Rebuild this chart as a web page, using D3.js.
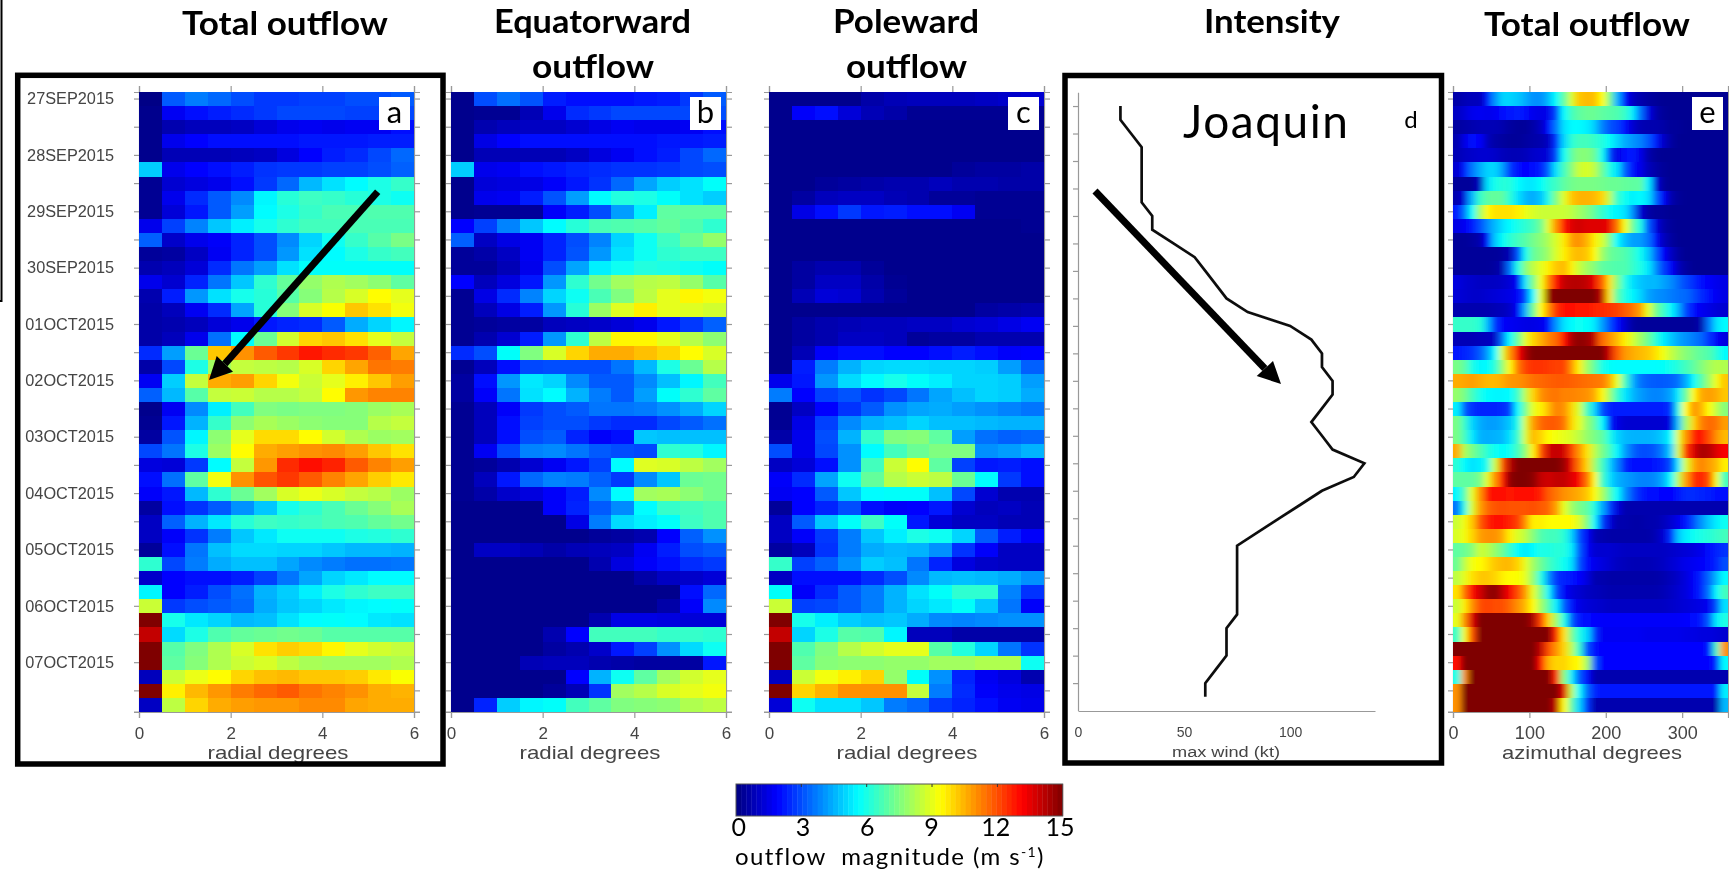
<!DOCTYPE html>
<html lang="en">

<head>
    <meta charset="utf-8" />
    <title>Joaquin outflow</title>
    <script src="https://d3js.org/d3.v7.min.js"></script>
    <style>
        body,
        html {
            margin: 0;
            padding: 0;
            background: white;
            overflow: hidden;
        }

        .tick-text text,
        .axis-name {
            font-family: "Liberation Sans", Arial, sans-serif;
            fill: #444;
        }

        .title {
            font-family: Lato, sans-serif;
            font-weight: 700;
            font-size: 33px;
            fill: black;
        }

        .callout {
            font-family: Lato, sans-serif;
            fill: black;
        }
    </style>
</head>

<body>
    <div id="chart"></div>
    <script>
        const dateLabels = ['27SEP2015', '28SEP2015', '29SEP2015', '30SEP2015', '01OCT2015', '02OCT2015',
            '03OCT2015', '04OCT2015', '05OCT2015', '06OCT2015', '07OCT2015'];
        const radialTicks = [0, 2, 4, 6];
        const azimuthTicks = [0, 100, 200, 300];
        const windTicks = [0, 50, 100];
        const barTicks = [0, 3, 6, 9, 12, 15];

        // m/s, one row per 6 h, 12 radial bins of 0.5 deg
        const totalOutflow = [
            [.1, 3.2, 3.7, 3.4, 3.0, 2.7, 2.7, 2.8, 2.8, 3.0, 3.0, 3.2],
            [.2, 1.7, 2.1, 2.3, 2.5, 2.7, 2.9, 2.9, 2.9, 2.8, 2.8, 2.9],
            [.2, .7, .9, .9, 1.0, 1.3, 1.6, 1.7, 1.6, 1.7, 1.7, 2.0],
            [.2, 1.6, 1.9, 2.1, 2.1, 2.1, 2.1, 2.2, 2.2, 2.2, 2.3, 2.3],
            [.2, .8, .8, .8, .9, 1.0, 1.4, 1.9, 2.3, 2.5, 2.9, 3.4],
            [4.9, 1.6, 1.9, 2.1, 2.3, 2.6, 2.7, 2.7, 2.8, 2.8, 3.0, 3.3],
            [.3, 1.2, 1.4, 1.6, 2.0, 2.7, 3.4, 4.6, 5.2, 5.6, 6.0, 6.4],
            [.3, 1.6, 2.5, 3.2, 3.9, 5.5, 6.2, 6.5, 6.4, 6.2, 6.0, 5.8],
            [.3, 1.3, 2.2, 3.2, 4.2, 5.6, 6.0, 6.4, 6.7, 6.7, 6.8, 6.8],
            [1.6, 2.8, 3.8, 4.8, 5.4, 5.9, 6.3, 6.6, 6.6, 6.7, 6.7, 6.7],
            [3.3, 1.1, 1.6, 1.8, 2.4, 3.0, 3.9, 5.0, 5.8, 6.4, 6.9, 7.4],
            [.4, .5, 1.0, 1.7, 2.4, 3.0, 4.1, 5.2, 5.6, 6.0, 6.4, 6.6],
            [.7, .9, 1.3, 2.5, 3.6, 4.2, 5.2, 5.7, 5.7, 5.7, 5.7, 5.7],
            [1.6, 1.2, 2.4, 3.6, 4.8, 6.3, 7.1, 7.8, 8.2, 8.0, 7.7, 7.0],
            [.7, 2.3, 4.1, 5.2, 5.9, 6.2, 6.9, 7.6, 8.3, 8.8, 9.4, 9.0],
            [.6, .9, 1.7, 2.5, 4.3, 6.2, 7.6, 8.8, 9.3, 10.2, 9.8, 9.2],
            [.6, .7, .9, 1.3, 1.6, 2.2, 2.4, 2.5, 3.2, 4.4, 5.0, 5.5],
            [.6, .9, 1.6, 3.5, 5.6, 7.2, 8.7, 10.0, 10.2, 9.8, 9.0, 8.5],
            [2.5, 4.2, 7.2, 10.2, 11.0, 11.8, 12.3, 12.8, 12.5, 12.3, 11.7, 10.7],
            [.6, 2.9, 6.0, 8.0, 8.5, 8.4, 8.3, 8.8, 10, 10.7, 11.4, 11.3],
            [1.7, 4.9, 8.5, 10.6, 10.8, 10.0, 9.2, 8.6, 9.0, 9.6, 10.2, 10.8],
            [3.3, 4.6, 6.9, 8.5, 8.6, 8.3, 8.3, 8.5, 9.4, 10.9, 11.2, 11.2],
            [.2, 1.7, 3.9, 5.4, 6.6, 7.5, 7.4, 7.5, 7.5, 7.6, 7.9, 8.1],
            [.3, 2.2, 4.5, 6.4, 7.7, 8.1, 7.9, 7.7, 7.6, 7.6, 8.3, 8.5],
            [.5, 3.1, 5.5, 7.7, 9.0, 9.9, 9.9, 9.4, 8.7, 8.2, 7.9, 8.0],
            [2.9, 3.6, 6.0, 7.9, 9.4, 10.6, 10.8, 11.0, 11.1, 10.8, 10.2, 9.8],
            [1.4, 1.3, 2.7, 5.6, 8.5, 10.9, 12.5, 13.0, 12.6, 11.8, 11.2, 10.8],
            [2, 3.5, 7.0, 9.2, 11, 11.9, 12.3, 11.8, 11.2, 10.7, 10.1, 9.7],
            [1.8, 2.2, 4.6, 6.3, 7.2, 8, 8.8, 9.1, 8.8, 8.5, 8.3, 7.9],
            [.5, 2, 2.6, 3.2, 4, 4.8, 5.9, 6.3, 6.7, 7.2, 7.6, 8.1],
            [1, 3.3, 4.5, 5.3, 6.2, 6.5, 6.4, 6.5, 6.7, 6.8, 7.1, 7.3],
            [1, 1.8, 2.6, 3.7, 4.8, 5.3, 5.8, 5.8, 5.8, 6, 6.1, 6.3],
            [.4, 2, 3.6, 4.7, 5.1, 5.1, 5.0, 5, 4.8, 4.6, 4.6, 4.5],
            [6.3, 2.9, 3.7, 4.4, 4.7, 4.7, 4.3, 3.9, 3.7, 3.5, 3.5, 3.6],
            [1.1, 1.9, 2, 2, 2.3, 2.8, 3.6, 4.3, 5, 5.3, 5.6, 5.6],
            [5.5, 1.9, 2.3, 3, 3.5, 4.5, 4.9, 5.4, 6, 6.3, 6.5, 6.5],
            [8.6, 2.7, 3, 3.2, 3.4, 4.4, 4.8, 5, 5.3, 5.5, 5.6, 5.7],
            [15, 5.9, 5.3, 5, 4.6, 4.7, 5.2, 5.6, 5.7, 5.6, 5.3, 5.2],
            [14, 5.1, 6, 6.8, 7.1, 7.2, 7.3, 7.2, 6.9, 6.9, 6.9, 6.9],
            [15, 6.9, 7.5, 8.2, 8.8, 9.8, 10.1, 9.9, 9.5, 9, 8.7, 8.5],
            [15, 7, 7.6, 8.2, 8.6, 8.8, 8.4, 8.1, 8, 8, 8, 8.2],
            [.9, 8.6, 9.1, 9.4, 10, 10.3, 10.4, 10.2, 10.2, 10.1, 9.7, 9.3],
            [15, 9.6, 10.4, 10.9, 11.3, 11.6, 11.8, 11.4, 11.2, 11, 10.6, 10.5],
            [1, 8.4, 10, 10.6, 10.8, 10.9, 10.9, 11.1, 11.1, 10.7, 10.6, 10.6]
        ];

        const equatorwardOutflow = [
            [.2, 3, 3.5, 3.1, 2.3, 2.1, 2.0, 2.0, 2.2, 2.3, 2.7, 3.2],
            [.2, .3, .3, .8, 1.6, 2.5, 2.7, 2.9, 2.9, 2.9, 2.9, 3.0],
            [.2, .7, .9, 1, 1, 1.2, 1.5, 1.7, 1.6, 1.6, 1.7, 2.0],
            [.2, 1.5, 1.9, 2, 2, 2, 2, 2, 2.1, 2.2, 2.2, 2.3],
            [.2, .8, .8, .8, .8, 1.0, 1.4, 1.7, 2.1, 2.3, 2.9, 3.4],
            [4.9, 1.6, 1.7, 2, 2.2, 2.4, 2.5, 2.6, 2.6, 2.7, 2.9, 3],
            [.2, 1.3, 1.4, 1.5, 1.8, 2.2, 2.6, 3.4, 4.3, 4.9, 5.2, 5.7],
            [.2, 1.6, 1.7, 2.3, 3.1, 4.2, 5.6, 6.1, 6, 5.7, 5.2, 4.9],
            [.2, .3, .3, .4, 1.8, 2.3, 3.0, 4.2, 5.4, 7, 7, 7],
            [1.9, 2.8, 3.8, 4.8, 5.6, 6.2, 6.7, 6.8, 6.9, 7.1, 6.8, 6.3],
            [3.3, 1, 1.5, 1.7, 2.4, 3, 3.8, 5, 5.8, 6.5, 7.2, 7.8],
            [.4, .6, 1, 1.7, 2.4, 3.1, 4.1, 5.2, 5.8, 6.3, 6.5, 6.5],
            [.4, .4, .8, 1.6, 3, 4.3, 5.4, 5.8, 6.1, 6, 5.8, 5.7],
            [1.9, .9, 1.4, 2.2, 4.1, 6.3, 7.3, 8, 8.3, 8.4, 7.8, 6.9],
            [.3, 1.5, 2.5, 3.8, 5, 5.8, 6.7, 7.5, 8.4, 9, 9.5, 9.2],
            [.3, .9, 1.5, 2.3, 4.1, 6.2, 7.9, 8.9, 9.6, 9, 8.9, 8.7],
            [.3, .4, .5, .5, .9, 1, 1.1, 1.3, 1.6, 2.2, 2.7, 3.3],
            [.3, .7, 1.2, 2.3, 4.1, 6.3, 8.4, 9.5, 9.5, 9, 8.3, 7.7],
            [2.5, 3, 5.7, 7.5, 8.8, 10, 10.6, 10.6, 10.3, 10, 9.4, 8.8],
            [.3, .9, 2.1, 2.9, 3, 3, 3, 3.6, 4.6, 6, 7.2, 8.3],
            [.5, 2, 4.1, 5.3, 5.0, 3.9, 3.2, 3.2, 3.9, 4.7, 5.5, 6.6],
            [.5, 1.8, 3.6, 5.2, 5.6, 4.5, 3.7, 3.2, 4.2, 5.7, 6.3, 7],
            [.3, .9, 1.8, 2.7, 3, 3.2, 3.6, 3.6, 3.7, 4, 4.4, 5],
            [.3, .9, 2, 2.8, 3, 3, 2.7, 2.5, 2.5, 2.9, 3.2, 3.5],
            [.3, .9, 2, 3, 3.2, 2.4, 1.8, 2.0, 4.8, 4.7, 4.7, 4.7],
            [.3, 1.7, 2.9, 3.8, 3.9, 3.6, 3.2, 3, 2.9, 6.3, 6.1, 5.5],
            [.3, .4, .7, 1.2, 1.7, 2.2, 2.8, 5.6, 8.9, 8.8, 8.4, 8],
            [.3, .9, 2.2, 3.4, 3.8, 3.7, 3.3, 2.7, 3.9, 4.8, 7.2, 7.3],
            [.3, .6, 1.1, 1.4, 1.8, 2.3, 3.9, 5.6, 8, 8.1, 7.7, 7.3],
            [.2, .2, .2, .2, 1.8, 2.4, 3.2, 3.9, 5.6, 6.4, 6.6, 6.8],
            [.2, .2, .2, .2, .2, 1.5, 3.7, 5.1, 5.4, 5.7, 6.5, 6.8],
            [.2, .2, .2, .2, .2, .2, .4, .5, .7, 1.9, 3.3, 4],
            [.2, 1.0, 1, .8, .6, .8, .9, 1, 1.7, 2.3, 3, 3.2],
            [.2, .2, .2, .2, .2, .2, .7, 1.4, 1.8, 2.1, 2.5, 2.7],
            [.2, .2, .2, .2, .2, .2, .2, .2, .6, 1, 1.1, 1.3],
            [.2, .2, .2, .2, .2, .2, .2, .2, .2, .2, 2, 3.4],
            [.2, .2, .2, .2, .2, .2, .2, .2, .2, .6, 1.8, 3.9],
            [.2, .2, .2, .2, .2, .2, .7, 1.5, 1.5, 1.4, 1.3, 1.3],
            [.2, .2, .2, .2, .7, 1.9, 6.6, 6.6, 6.6, 6.4, 6.4, 6.3],
            [.2, .2, .2, .2, .5, .7, 1.1, 2.2, 2.8, 4, 5.1, 5.8],
            [.2, .2, .2, .8, .9, .9, .7, .6, .5, .5, .5, 2.2],
            [.2, .2, .2, .2, .2, 1.9, 4.5, 5.8, 7, 8, 8.7, 9],
            [.2, .2, .2, .2, .4, .8, 2.6, 8, 8.3, 8.8, 9, 9.2],
            [.2, 2.4, 4.9, 5.5, 5.7, 6.6, 7, 7.5, 7.6, 7.7, 8.2, 8.4]
        ];

        const polewardOutflow = [
            [.2, .2, .2, .2, .6, .8, .9, .9, .9, 1, 1.1, 1.2],
            [.2, 1.8, 2.0, 1.3, .8, .6, .3, .3, .3, .3, .3, .3],
            [.2, .2, .2, .2, .2, .2, .2, .2, .2, .2, .2, .2],
            [.2, .2, .2, .2, .2, .2, .2, .2, .2, .2, .2, .2],
            [.2, .2, .2, .2, .2, .2, .2, .2, .2, .2, .2, .2],
            [.2, .2, .2, .2, .2, .2, .2, .2, .4, .5, .5, .6],
            [.2, .2, .4, .5, .6, .7, .7, .9, .7, .7, .6, .6],
            [.2, .5, .9, 1, 1, .8, .7, .4, .4, .3, .3, .3],
            [.2, 1.5, 2, 2.7, 2.2, 2.3, 2.1, 2, 1.7, .3, .3, .3],
            [.2, .2, .2, .2, .2, .2, .2, .2, .2, .2, .2, .3],
            [.2, .2, .2, .2, .2, .2, .2, .2, .2, .2, .2, .2],
            [.2, .2, .2, .2, .2, .2, .2, .2, .2, .2, .2, .2],
            [.2, .5, .7, .7, .4, .2, .2, .2, .2, .2, .2, .2],
            [.2, .5, 1, 1, .6, .3, .2, .2, .2, .2, .2, .2],
            [.2, .8, 1.3, 1.2, .7, .4, .2, .2, .2, .2, .2, .2],
            [.2, .2, .2, .2, .2, .2, .2, .2, .2, .5, .6, .7],
            [.2, .5, .7, .8, .9, .9, 1, 1, 1.2, 1.3, 1.5, 1.7],
            [.2, .5, .7, 1, 1, .9, .4, .5, .5, .7, .7, .7],
            [.2, .8, 1.8, 2, 2.1, 1.9, 1.9, 2.1, 2.3, 2, 1.8, 1.9],
            [.2, 2.3, 3.7, 4.5, 5, 5.1, 5.1, 5, 5, 4.9, 4.2, 3.3],
            [1.6, 2.2, 4.1, 5.1, 5.6, 5.9, 5.7, 5.4, 5, 5, 4.9, 4.2],
            [3.7, 1.9, 2.8, 3.1, 2.6, 2.9, 3.6, 4.3, 4.7, 5, 4.9, 4.4],
            [.3, 1, 1.9, 2.6, 3.2, 4, 4.3, 4.4, 4.2, 4, 3.8, 3.6],
            [.3, 1.5, 2.8, 3.9, 4.5, 4.7, 5, 4.7, 4.7, 4.6, 4.5, 4.5],
            [.6, 1.6, 3, 4.5, 6.4, 7.5, 7.6, 7, 4.2, 3.5, 3.3, 3.4],
            [3, 1.6, 2.9, 4, 5.6, 6.6, 7.2, 7.5, 7.5, 4, 4.2, 4.5],
            [1, 1.3, 2, 4, 6.6, 8.6, 9.4, 7, 2.8, 2.2, 2.3, 2],
            [1.8, 2.5, 4.3, 5.8, 7.1, 8.3, 8.6, 8.4, 7.2, 5.6, 2.7, 2],
            [1.7, 1.9, 3.2, 4.8, 5.6, 5.7, 5.7, 4.7, 2.9, 1.2, .7, .7],
            [.4, 1.9, 2.4, 3, 2.1, 1.8, 1.9, 2.2, 1.2, .9, 1, .8],
            [1, 3.2, 4.8, 5.7, 6.5, 5.7, 2.2, 1.3, 1, 1, .8, .8],
            [1, 1.8, 2.7, 3.7, 4.8, 5.4, 6, 5.8, 5, 3.2, 2.3, 1.8],
            [.5, .9, 2.6, 3.7, 4.4, 4.6, 4.5, 4, 2.6, 1.8, 1, 1],
            [6.4, 2.8, 3.3, 4, 4.9, 4.7, 3.6, 2.4, 1.4, 1.1, 1, 1],
            [1, 2, 2, 2, 2.5, 3, 3.9, 4.6, 4.7, 4.6, 4.4, 4],
            [5.7, 1.8, 2.5, 3.2, 3.7, 4.5, 5.2, 5.7, 6.3, 6.3, 3.8, 2.6],
            [8.6, 2.8, 2.9, 3.2, 3.7, 4.5, 5, 5.3, 5.7, 4.8, 3.6, 1.8],
            [15, 5.9, 5.4, 4.9, 4.7, 4.8, 4.4, 3.9, 3.8, 3.9, 4, 4],
            [14, 5, 6, 6.9, 6.8, 5.5, .9, .9, .6, .6, .6, .6],
            [15, 6.8, 7.5, 8.3, 8.7, 9, 9, 6.9, 6.1, 5, 3.6, 2.6],
            [15, 7, 7.6, 7.7, 7.7, 7.8, 7.8, 8, 8, 8.2, 8.2, 5.8],
            [1, 8.6, 9.2, 9.6, 10, 7.8, 5.7, 4, 2.4, 1.7, 1.4, .7],
            [15, 10, 10.5, 11, 11, 11, 8.5, 3.7, 2.5, 1.8, 1.6, 1.5],
            [1.3, 5.8, 5.2, 5.2, 4.8, 3.7, 3.4, 2.7, 2.4, 2, 1.7, 1.6]
        ];

        // kt, one point per 6 h
        const maxWind = [20, 20, 25, 30, 30, 30, 30, 30, 35, 35, 45, 55, 60, 65, 70, 80, 100, 110, 115, 115, 120, 120,
            115, 110, 115, 120, 135, 130, 115, 105, 95, 85, 75, 75, 75, 75, 75, 75, 70, 70, 70, 65, 60, 60];

        // m/s, same rows, 36 azimuth bins of 10 deg
        const azimuthOutflow = [
            [.6, .8, .9, .9, 2.2, 4, 5, 5, 4.8, 4.4, 4, 4, 4.6, 5.6, 7, 8.8, 10.2, 10.4, 10.3, 9.4, 7.4, 4.5, 2, 1, .7, .5, .4, .3, .3, .3, .3, .3, .3, .3, .3, .3],
            [1, 1.3, 1.6, 1.7, 1.6, 1.7, 2, 2.2, 2.3, 2, 1.6, 1.5, 1.6, 2.8, 5.6, 6.6, 7, 7.2, 7.2, 7, 6.9, 6.8, 6.4, 5.4, 3.6, 1.5, .7, .4, .3, .3, .3, .3, .3, .3, .3, .3],
            [.5, .6, .7, .8, .8, .8, .7, .5, .4, .4, .6, 1, 1.9, 3.6, 5.2, 5.6, 5.6, 5.4, 4.9, 3.8, 3.1, 2.8, 2.0, 1.2, .8, .7, .7, .6, .4, .4, .3, .3, .3, .3, .3, .3],
            [.7, 1.5, 2, 1.8, .9, .6, .5, .4, .4, .5, .6, .7, 1.0, 2.5, 5, 6.2, 6.6, 6.6, 6.4, 6.1, 5.7, 5, 4.4, 4.1, 3.8, 3.2, 2.3, 1.1, .5, .3, .3, .3, .3, .3, .3, .3],
            [.8, 1, 1.1, 1.2, 1.2, 1.1, .9, .8, .8, .9, 1.1, 1.2, 1.3, 2.8, 5.8, 7, 7.6, 7.6, 7.2, 5.8, 2.8, 1.5, 2, 2.3, 1.6, .7, .4, .3, .3, .3, .3, .3, .3, .3, .3, .3],
            [1.2, 2.2, 3.6, 4.4, 5, 5, 4.2, 2.7, 2, 1.9, 2, 2.3, 3.3, 5.2, 6.6, 7.6, 8.6, 8.8, 8.4, 7.2, 6, 5.2, 3.2, 2, 1.6, .9, .6, .4, .3, .3, .3, .3, .3, .3, .3, .3],
            [.4, .4, .4, 1, 5.2, 5.9, 6.2, 6.1, 5.6, 5.3, 5.3, 5.7, 6.2, 6.5, 7, 7.3, 7.4, 7.4, 7.4, 7.3, 7.2, 7.2, 7.1, 7, 7, 5.4, 1.5, .5, .3, .3, .3, .3, .3, .3, .3, .3],
            [.7, 1.4, 4.5, 6.4, 7, 7.1, 7, 6.2, 5.2, 4.6, 4.4, 4.8, 6, 7.5, 8.9, 10.2, 10.5, 10.5, 10.4, 10, 8.4, 6.4, 5.8, 5.4, 5.6, 5.2, 3.4, 1.8, .7, .4, .3, .3, .3, .3, .3, .3],
            [2.2, 3.5, 5.6, 8, 9.4, 9.8, 9.8, 9.8, 9.6, 9.1, 8.8, 8.6, 8.6, 8.6, 8.6, 8.4, 8, 7.6, 7, 6.4, 5.8, 5.5, 5.2, 4, 1.3, .6, .4, .4, .3, .3, .3, .3, .3, .3, .3, .3],
            [1.5, 1.7, 2.2, 3, 3.9, 4.6, 5.2, 5.6, 6, 6.3, 6.6, 7.3, 9, 11, 12.8, 13.6, 13.8, 13.6, 13.6, 13.6, 13.4, 11.5, 9.2, 7.2, 6, 3.2, 1.5, .7, .4, .3, .3, .3, .3, .3, .3, .3],
            [.4, .4, .5, .7, 2, 4.8, 5.7, 6.2, 6.6, 6.9, 7.3, 7.7, 8.2, 8.8, 9.7, 10.8, 11, 10.5, 9.6, 8.8, 7.5, 5.6, 4.7, 4.2, 4.2, 3.6, 2, 1, .5, .3, .3, .3, .3, .3, .3, .3],
            [.4, .4, .4, .4, .4, .4, .5, .8, 3, 5.8, 7.1, 7.5, 8, 8.8, 9.6, 10.2, 10.4, 10.2, 9.4, 8, 7.2, 7, 6.8, 6.4, 5.8, 4.8, 3.3, 1.9, 1, .5, .3, .3, .3, .3, .3, .3],
            [.4, .4, .4, .4, .4, .5, .8, 3.5, 6, 7.6, 8.4, 9, 9.6, 10.2, 10.4, 9.6, 8.6, 8, 7.6, 7, 6.9, 6.8, 6.8, 6.4, 6, 5.3, 4, 2.8, 1.8, .9, .5, .3, .3, .3, .3, .3],
            [1.4, 1.2, 1.1, 1, 1, 1, 1.1, 1.3, 1.8, 5.3, 7.4, 9.2, 11.2, 13, 14, 14.2, 14.2, 14, 13.4, 11.8, 9.8, 7.6, 6, 5.2, 4.8, 4.6, 4.6, 4.3, 3.9, 3.4, 2.9, 2.5, 2, 1.8, 1.6, 1.5],
            [1.3, 1.2, 1.1, 1.1, 1.2, 1.3, 1.4, 1.5, 1.8, 2.8, 5.6, 9, 14.6, 15, 15, 15, 15, 15, 15, 14, 9.8, 7, 6, 5.5, 5, 4.3, 4, 3.9, 3.7, 3.5, 3.4, 3, 2.5, 2, 1.7, 1.5],
            [.7, .7, .7, .7, .7, .8, .9, 1.1, 1.8, 4.5, 7.2, 9.4, 11, 12.4, 13, 13, 12.8, 12.8, 12.6, 12.5, 12.4, 12.2, 11.8, 11.4, 10.8, 9, 7.4, 6.5, 5.5, 4.4, 2.8, 2, 1.7, 1.5, 1.3, 1.2],
            [6.4, 6.4, 6.4, 6.2, 4.6, 2.6, 1.8, 1.7, 1.6, 1.5, 1.5, 1.6, 2, 4, 5.2, 5.6, 5.8, 5.7, 5.3, 4.2, 3, 2, 1.2, .5, .4, .4, .4, .4, .4, .4, .4, .4, .7, 3.6, 5.2, 5.6],
            [.8, .8, .8, .9, .9, 1.1, 3.5, 5.6, 7.2, 9, 10, 10.6, 11.2, 11.6, 13, 14.4, 14.8, 14.6, 14, 11.6, 11, 10.4, 9.6, 8.8, 8, 7.2, 6.2, 5.4, 4.8, 4.3, 4, 3.7, 3.4, 2.6, 1.8, 1.4],
            [2.2, 2.4, 2.6, 3.2, 4.2, 5.6, 8.8, 11, 13.2, 14.4, 15, 15, 15, 15, 15, 15, 15, 15, 15, 15, 13.8, 11.8, 10.9, 10.6, 10.4, 10.2, 9.8, 9.2, 8.5, 8, 7.6, 7.3, 7, 6.8, 6.2, 5.6],
            [7.4, 7, 6, 5.5, 5.6, 6.2, 7.8, 9.5, 11.4, 12.2, 12.4, 12.4, 12.3, 12.2, 12.2, 11, 9.6, 8, 7, 6, 5.7, 5.6, 5.6, 5.6, 5.6, 5.6, 5.6, 5.7, 5.9, 6.2, 6.6, 7, 7.5, 8, 8.3, 8.2],
            [10.6, 10.7, 10.8, 10.6, 10.4, 10.4, 10.6, 10.9, 11, 11.2, 11.5, 11.6, 11.7, 11.8, 11.8, 11.7, 11.6, 11.5, 11.4, 11.3, 10.6, 9, 6.6, 4.6, 3.6, 3.3, 3.2, 3.2, 3.3, 3.6, 4.4, 5.6, 6.8, 8, 9.2, 10.2],
            [7.8, 7.4, 6.6, 5.9, 5.6, 5.5, 5.5, 5.6, 6.5, 8.4, 10, 11, 11.3, 11.4, 11.2, 11.2, 11.1, 11, 10.6, 9.5, 8, 6.4, 5.3, 4.6, 4.2, 3.9, 3.8, 3.9, 4.3, 5.4, 7.2, 9.4, 10.6, 10.8, 10.6, 10.2],
            [5.4, 3.2, 2.6, 2.4, 2.4, 2.4, 2.5, 2.8, 5.6, 7.4, 9, 9.6, 10.4, 11.2, 11, 10, 8.8, 6.6, 5, 3, 2.4, 2.3, 2.3, 2.3, 2.3, 2.3, 2.3, 2.3, 2.6, 6, 9.4, 11, 10.5, 9.4, 8.4, 7.6],
            [7.4, 6.4, 5, 4.4, 4.2, 4.2, 4.4, 4.8, 6, 8.8, 10.8, 11.6, 11.8, 11.8, 11.4, 10, 9, 7.8, 7, 5.6, 2.4, 1.5, 1.2, 1.2, 1.2, 1.2, 1.2, 1.2, 1.5, 4.8, 8, 10, 11.2, 11.6, 11.4, 10.8],
            [7.4, 6.6, 5.3, 4.5, 4.4, 4.5, 4.6, 5.2, 6.4, 8.8, 10.4, 10, 9.4, 9.2, 9, 8.8, 8.4, 7.8, 7.4, 7, 6, 5, 4.6, 4.5, 4.5, 4.5, 4.6, 4.9, 5.6, 9, 11, 12.6, 13, 12, 11, 10.4],
            [10.6, 8.2, 7.4, 6.8, 6.2, 5.8, 5.6, 5.8, 6.6, 7.8, 9.6, 12, 13.8, 14, 13.8, 12.2, 11, 9.8, 8.4, 7.4, 6.6, 5.5, 4.2, 3.4, 3, 3, 3.2, 3.8, 5, 8.8, 12.4, 13.6, 14.4, 14.2, 13.6, 13.2],
            [6.2, 5.6, 5.2, 5.4, 6, 8.6, 12, 14.2, 15, 15, 15, 15, 15, 15, 14.6, 13.4, 11.4, 10, 8, 6.6, 5, 3.8, 2.4, 2.1, 2.1, 2.1, 2.2, 2.4, 3, 5.4, 8.8, 10.6, 11.2, 10.8, 10.4, 9.6],
            [7, 7, 7, 7.4, 9, 11, 12.8, 14.8, 15, 15, 14.8, 14, 13.8, 14, 14, 13.6, 13.2, 11.5, 9.4, 6.6, 5.2, 4.5, 4.2, 4, 3.8, 3.8, 3.9, 4.4, 5.6, 8.4, 10.8, 12.4, 12.6, 12, 9.2, 6.6],
            [5.5, 6.8, 9, 11, 12.8, 13, 13, 12.8, 13, 13, 13, 12.6, 11.8, 11.4, 11, 10.8, 10.6, 10.2, 9.4, 8.2, 6.8, 5.6, 4, 3, 2.4, 2, 2, 1.9, 1.9, 2.2, 2.5, 2.5, 2.4, 2.3, 2.1, 2],
            [3.6, 6, 8.8, 10.8, 11.6, 11.9, 12, 11.9, 11.9, 11.9, 12, 11.8, 11.6, 10.8, 9, 8, 7.4, 7, 6, 4.4, 2.8, 1.4, .7, .7, .7, .7, .7, .7, .7, .7, .7, .7, .7, .7, .7, .7],
            [8.6, 9.2, 10.2, 11.8, 12.6, 13, 13, 12.6, 12.2, 11, 9.6, 9.6, 9.4, 9.4, 9.4, 9.4, 8.8, 7.5, 5.6, 2.8, 1.4, .7, .7, .6, .6, .7, .7, .9, 1.2, 1.6, 2.2, 3, 4, 4.8, 5.4, 5.8],
            [8.8, 9.2, 10, 10.8, 11, 11, 10.6, 9.6, 8.8, 8.4, 7.6, 6.8, 6.6, 6.6, 6.2, 5, 3, 1.8, .8, .7, .6, .6, .6, .6, .6, .6, .8, 1.2, 2.5, 4.8, 5.4, 5.8, 6, 6.2, 6.4, 6.6],
            [7, 7.2, 7.6, 8.6, 8.4, 7.8, 7.2, 6.4, 5.6, 5.3, 5.6, 6, 6, 6.2, 6.1, 5.4, 3.2, 1.8, 1.2, 1.2, 1.2, 1.1, 1, 1, 1, 1, 1, 1, 1.1, 1.2, 1.3, 1.4, 1.6, 2, 2.4, 2.6],
            [7.2, 8.4, 9.2, 9.4, 9.8, 10.2, 10.4, 10.4, 10, 9, 8, 7.2, 6.6, 6.2, 5.8, 5.2, 3, 2, 1.6, 1.4, 1.2, 1, .9, .8, .8, .8, .9, 1, 1.2, 1.4, 1.6, 1.7, 1.8, 2, 2.4, 3],
            [8.4, 9, 9.8, 10.2, 10.2, 10, 9.6, 9.4, 9.3, 9, 7.8, 6, 4, 2.6, 2.4, 2.2, 1.9, 1.4, .7, .7, .6, .6, .6, .6, .6, .6, .6, .7, .9, 1.1, 1.4, 1.8, 2.4, 3.4, 4.6, 5.6],
            [9.8, 11.5, 13, 13.8, 14.6, 14.8, 14, 13.2, 12, 10.8, 9, 7.4, 5.5, 3, 1.8, 1.4, 1.2, 1, .9, .8, .7, .7, .7, .7, .7, .7, .7, .8, 1, 1.2, 1.4, 1.8, 2.4, 3.6, 5.6, 6.6],
            [8.6, 9.6, 11, 12, 12.2, 12, 12, 11.6, 11, 10.4, 9.4, 8, 6.8, 5.4, 3.2, 2, 1.5, 1.3, 1.2, 1.1, 1, 1, 1, 1, 1, 1, 1, 1, 1.1, 1.2, 1.3, 1.4, 1.5, 1.7, 3, 5.2],
            [9, 11, 13.6, 15, 15, 15, 15, 15, 15, 15, 14.4, 12.2, 10, 8, 6, 3.2, 2.2, 2, 1.9, 1.8, 1.8, 1.8, 1.8, 1.8, 1.8, 1.8, 1.8, 1.8, 1.8, 1.8, 1.9, 2, 2.2, 3.2, 5.4, 6],
            [6.5, 9.2, 12, 15, 15, 15, 15, 15, 15, 15, 15, 15, 15, 12.6, 9.8, 7.4, 6, 5, 2.6, 1.7, 1.7, 1.7, 1.7, 1.7, 1.7, 1.6, 1.6, 1.6, 1.6, 1.6, 1.5, 1.5, 1.4, 1.4, 1.3, 1.2],
            [15, 15, 15, 15, 15, 15, 15, 15, 15, 15, 15, 14, 12, 11, 10, 8.4, 6.4, 3, 2, 1.9, 1.9, 1.9, 1.9, 1.9, 1.9, 1.9, 1.9, 1.9, 1.9, 1.9, 1.9, 1.9, 1.9, 2.2, 6.5, 11],
            [13, 15, 15, 15, 15, 15, 15, 15, 15, 15, 15, 13, 10.5, 10, 10, 9.6, 9.4, 8, 3.2, 1.9, 1.9, 1.9, 1.9, 1.9, 1.9, 1.9, 1.9, 1.9, 1.9, 1.9, 1.9, 1.9, 1.9, 1.9, 2.4, 5.6],
            [6, 11, 15, 15, 15, 15, 15, 15, 15, 15, 15, 15, 15, 12.6, 7.6, 5.4, 3.2, 2, .7, .7, .7, .7, .7, .7, .7, .7, .7, .7, .7, .7, .7, .7, .7, .7, .7, .7],
            [11, 15, 15, 15, 15, 15, 15, 15, 15, 15, 15, 15, 15, 15, 13.5, 8.4, 5.6, 3.4, 2.4, 2.2, 2.2, 2.2, 2.2, 2.2, 2.2, 2.2, 2.2, 2.2, 2.2, 2.2, 2.2, 2.2, 2.2, 2.2, 2.2, 5.4],
            [11, 15, 15, 15, 15, 15, 15, 15, 15, 15, 15, 15, 15, 14, 9.4, 7, 5, 2.6, .7, .7, .7, .7, .7, .7, .7, .7, .7, .7, .7, .7, .7, .7, .7, .7, .7, 4.6]
        ];

        const width = 1729, height = 872;
        const plotTop = 92, plotBottom = 712, panelWidth = 275;
        const rows = d3.range(totalOutflow.length);
        const evenRows = rows.filter(r => r % 2 === 0);

        // matlab jet
        const jet = d3.scaleLinear()
            .domain([0, 1.875, 5.625, 9.375, 13.125, 15])
            .range(["#00007f", "#0000ff", "#00ffff", "#ffff00", "#ff0000", "#7f0000"])
            .clamp(true);

        const svg = d3.select("#chart").append("svg")
            .attr("width", width)
            .attr("height", height)
            .style("display", "block");

        const defs = svg.append("defs");
        defs.append("filter").attr("id", "soft").append("feGaussianBlur").attr("stdDeviation", 0.5);
        defs.append("filter").attr("id", "smear")
            .attr("x", "-5%").attr("width", "110%")
            .append("feGaussianBlur").attr("stdDeviation", "3 0.5");
        defs.append("clipPath").attr("id", "clip-e").append("rect")
            .attr("x", 1453).attr("y", plotTop).attr("width", panelWidth).attr("height", plotBottom - plotTop);

        const yBand = d3.scaleBand().domain(rows).range([plotTop, plotBottom]);

        function styleAxis(g) {
            g.selectAll("path, line").attr("stroke", "#999").attr("stroke-width", 1.2);
            g.selectAll("text").attr("fill", "#444")
                .attr("font-family", "'Liberation Sans', Arial, sans-serif");
        }

        function drawFrame(x, xTicks, labelFn, showDates, labelSize) {
            const x0 = x.range()[0], x1 = x.range()[1];
            const g = svg.append("g").attr("filter", "url(#soft)");

            g.append("g").attr("transform", "translate(0," + plotTop + ")")
                .call(d3.axisTop(x).tickValues(xTicks).tickSize(6).tickFormat(""))
                .call(styleAxis);

            g.append("g").attr("transform", "translate(" + x1 + ",0)")
                .call(d3.axisRight(yBand).tickValues(evenRows).tickSize(6).tickFormat(""))
                .call(styleAxis);

            const left = g.append("g").attr("transform", "translate(" + x0 + ",0)")
                .call(d3.axisLeft(yBand).tickValues(evenRows).tickSize(5).tickPadding(20)
                    .tickFormat(r => showDates ? dateLabels[r / 4] || "" : ""))
                .call(styleAxis);
            left.selectAll("text").attr("font-size", 16.3);

            const under = g.append("g").attr("transform", "translate(0," + plotBottom + ")")
                .call(d3.axisBottom(x).tickValues(xTicks).tickSize(6).tickPadding(8.5).tickFormat(labelFn))
                .call(styleAxis);
            under.selectAll("text").attr("font-size", labelSize);

            g.append("line")
                .attr("x1", x0 - 5).attr("x2", x1 + 6)
                .attr("y1", plotBottom).attr("y2", plotBottom)
                .attr("stroke", "#999").attr("stroke-width", 1.2);
        }

        function drawRadialPanel(data, x0, name, nameX) {
            const x = d3.scaleLinear().domain([0, 6]).range([x0, x0 + panelWidth]);
            const xBand = d3.scaleBand().domain(d3.range(12)).range([x0, x0 + panelWidth]);

            drawFrame(x, radialTicks, d3.format("d"), x0 < 200, 17);

            svg.append("g").attr("filter", "url(#soft)")
                .attr("shape-rendering", "crispEdges")
                .selectAll("g").data(data).enter().append("g")
                .selectAll("rect").data((d, r) => d.map((v, c) => ({ r: r, c: c, v: v }))).enter().append("rect")
                .attr("x", d => xBand(d.c))
                .attr("y", d => yBand(d.r))
                .attr("width", d => xBand.bandwidth() + (d.c < 11 ? 1 : 0))
                .attr("height", d => yBand.bandwidth() + (d.r < 43 ? 1 : 0))
                .attr("fill", d => jet(d.v));

            svg.append("text")
                .attr("class", "axis-name")
                .attr("x", nameX).attr("y", 758.5)
                .attr("text-anchor", "middle")
                .attr("font-size", 19)
                .attr("textLength", 141).attr("lengthAdjust", "spacingAndGlyphs")
                .attr("filter", "url(#soft)")
                .text(name);
        }

        drawRadialPanel(totalOutflow, 139, "radial degrees", 278);
        drawRadialPanel(equatorwardOutflow, 451, "radial degrees", 590);
        drawRadialPanel(polewardOutflow, 769, "radial degrees", 907);

        // panel d: intensity
        const windX = d3.scaleLinear().domain([0, 140]).range([1078, 1375]);
        const windY = d3.scaleLinear().domain([-1, 44]).range([92.3, 710.6]);

        const windG = svg.append("g").attr("filter", "url(#soft)");
        windG.append("g").attr("transform", "translate(1078,0)")
            .call(d3.axisLeft(windY).tickValues(evenRows).tickSize(5).tickSizeOuter(0).tickFormat(""))
            .call(styleAxis);
        const windAxis = windG.append("g").attr("transform", "translate(0,711)")
            .call(d3.axisBottom(windX).tickValues(windTicks).tickSize(0).tickPadding(16).tickFormat(d3.format("d")))
            .call(styleAxis);
        windAxis.selectAll("text").attr("font-size", 14);
        windG.append("text")
            .attr("class", "axis-name")
            .attr("x", 1226).attr("y", 757)
            .attr("text-anchor", "middle")
            .attr("font-size", 14)
            .attr("textLength", 108).attr("lengthAdjust", "spacingAndGlyphs")
            .text("max wind (kt)");
        windG.append("path")
            .datum(maxWind)
            .attr("fill", "none")
            .attr("stroke", "#111")
            .attr("stroke-width", 2.7)
            .attr("d", d3.line().x(d => windX(d)).y((d, i) => windY(i)));

        // panel e: total outflow by azimuth
        const azX = d3.scaleLinear().domain([0, 360]).range([1453, 1453 + panelWidth]);
        const azBand = d3.scaleBand().domain(d3.range(36)).range([1453, 1453 + panelWidth]);
        drawFrame(azX, azimuthTicks, d3.format("d"), false, 18);

        svg.append("g").attr("clip-path", "url(#clip-e)")
            .append("g").attr("filter", "url(#smear)")
            .attr("shape-rendering", "crispEdges")
            .selectAll("g").data(azimuthOutflow).enter().append("g")
            .selectAll("rect").data((d, r) => d.map((v, c) => ({ r: r, c: c, v: v }))).enter().append("rect")
            // end cells run on past the panel so the blur does not fade at the edge
            .attr("x", d => d.c === 0 ? azBand(0) - 12 : azBand(d.c))
            .attr("y", d => yBand(d.r))
            .attr("width", d => (d.c === 0 || d.c === 35 ? 12 : 0) + azBand.bandwidth() + 1)
            .attr("height", d => yBand.bandwidth() + (d.r < 43 ? 1 : 6))
            .attr("fill", d => jet(d.v));

        svg.append("text")
            .attr("class", "axis-name")
            .attr("x", 1592).attr("y", 759)
            .attr("text-anchor", "middle")
            .attr("font-size", 19)
            .attr("textLength", 180).attr("lengthAdjust", "spacingAndGlyphs")
            .attr("filter", "url(#soft)")
            .text("azimuthal degrees");

        // colour bar
        const barX = d3.scaleLinear().domain([0, 15]).range([736, 1062.7]);
        const barLabelX = d3.scaleLinear().domain([0, 15]).range([738.7, 1060]);
        const barSteps = d3.range(0, 15, 15 / 64);
        svg.append("g").selectAll("rect").data(barSteps).enter().append("rect")
            .attr("x", d => barX(d))
            .attr("y", 784)
            .attr("width", barX(15 / 64) - barX(0) + 0.4)
            .attr("height", 32)
            .attr("fill", d => jet(d + 15 / 128));
        svg.append("rect")
            .attr("x", 736).attr("y", 784).attr("width", 326.7).attr("height", 32)
            .attr("fill", "none").attr("stroke", "#555").attr("stroke-width", 1);
        svg.append("g").selectAll("line").data(barTicks.slice(1, -1)).enter().append("line")
            .attr("x1", d => barX(d)).attr("x2", d => barX(d))
            .attr("y1", 784).attr("y2", 787)
            .attr("stroke", "#333");
        svg.append("g").selectAll("text").data(barTicks).enter().append("text")
            .attr("class", "callout")
            .attr("x", d => barLabelX(d))
            .attr("y", 836)
            .attr("text-anchor", "middle")
            .attr("font-size", 25)
            .text(d => d);
        const barName = svg.append("text")
            .attr("class", "callout")
            .attr("x", 735).attr("y", 865)
            .attr("font-size", 24)
            .attr("letter-spacing", 1.4)
            .attr("xml:space", "preserve")
            .attr("fill", "#111");
        barName.append("tspan").text("outflow  magnitude (m s");
        barName.append("tspan").attr("dy", -8).attr("font-size", 14).text("-1");
        barName.append("tspan").attr("dy", 8).text(")");

        // titles
        const titles = [
            ["Total outflow", 182, 35, 206],
            ["Equatorward", 494, 33, 197],
            ["outflow", 532, 78, 122],
            ["Poleward", 833, 33, 146],
            ["outflow", 846, 78, 121],
            ["Intensity", 1204, 33, 136],
            ["Total outflow", 1484, 36, 206]
        ];
        svg.append("g").selectAll("text").data(titles).enter().append("text")
            .attr("class", "title")
            .attr("x", d => d[1]).attr("y", d => d[2])
            .attr("textLength", d => d[3]).attr("lengthAdjust", "spacingAndGlyphs")
            .text(d => d[0]);

        // panel letters
        const letters = [["a", 379], ["b", 690], ["c", 1008], ["e", 1692]];
        letters.forEach(function (d) {
            svg.append("rect").attr("x", d[1]).attr("y", 97).attr("width", 31).attr("height", 33).attr("fill", "white");
            svg.append("text").attr("class", "callout")
                .attr("x", d[1] + 15.5).attr("y", 123)
                .attr("text-anchor", "middle").attr("font-size", 31)
                .text(d[0]);
        });
        svg.append("text").attr("class", "callout")
            .attr("x", 1411).attr("y", 128)
            .attr("text-anchor", "middle").attr("font-size", 24)
            .text("d");
        svg.append("text").attr("class", "callout")
            .attr("x", 1183).attr("y", 138)
            .attr("font-size", 46)
            .attr("textLength", 165).attr("lengthAdjust", "spacing")
            .text("Joaquin");

        // black boxes round a and d, the stray corner at the far left
        [[17.7, 75.3, 425.3, 688.7], [1065, 75.5, 376.5, 687.5]].forEach(function (b) {
            svg.append("rect")
                .attr("x", b[0]).attr("y", b[1]).attr("width", b[2]).attr("height", b[3])
                .attr("fill", "none").attr("stroke", "black").attr("stroke-width", 5.5);
        });
        svg.append("path")
            .attr("d", "M1.5,0V301H0")
            .attr("fill", "none").attr("stroke", "black").attr("stroke-width", 2);

        // arrows
        function arrow(x1, y1, x2, y2, w1, w2) {
            svg.append("line")
                .attr("x1", x1).attr("y1", y1)
                .attr("x2", (w1[0] + w2[0]) / 2).attr("y2", (w1[1] + w2[1]) / 2)
                .attr("stroke", "black").attr("stroke-width", 7);
            svg.append("path")
                .attr("d", d3.line()([[x2, y2], w1, w2]) + "Z")
                .attr("fill", "black");
        }
        arrow(377.7, 191.7, 209, 380, [216.7, 356], [233, 371.7]);
        arrow(1095, 191, 1281, 384, [1256.7, 376], [1273, 361]);
    </script>
</body>

</html>
